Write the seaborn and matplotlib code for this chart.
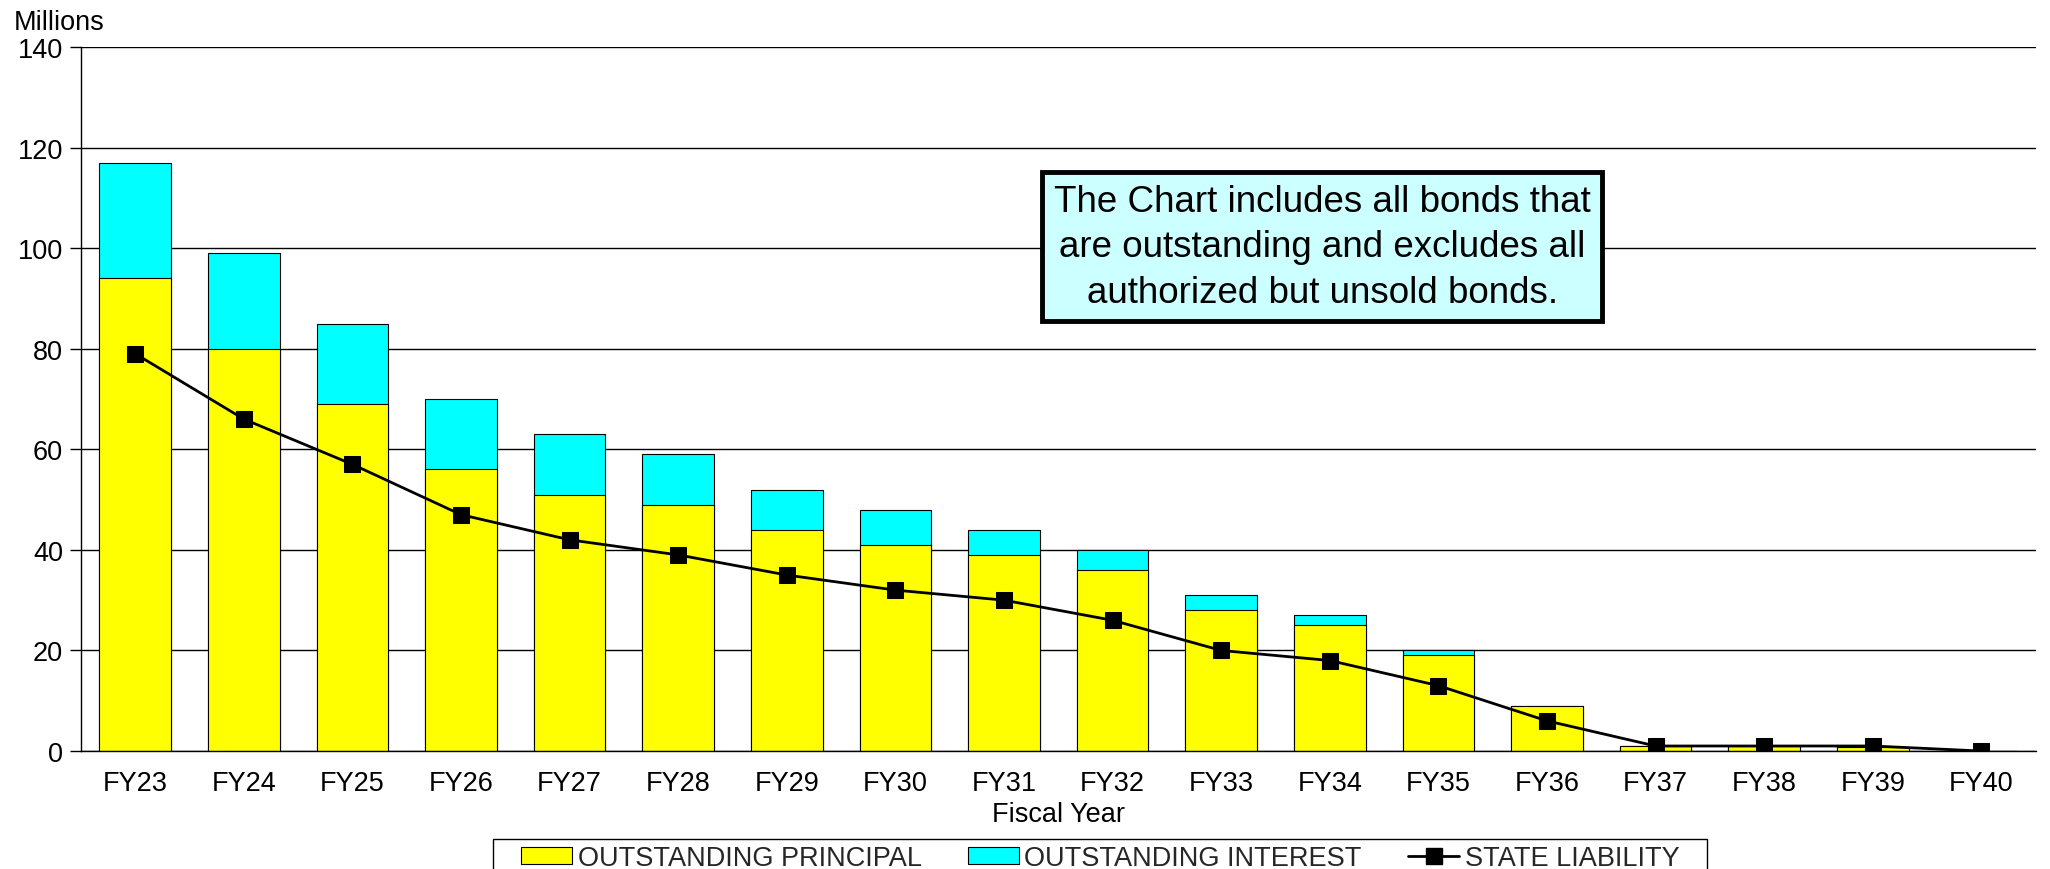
import matplotlib
matplotlib.use("Agg")
import matplotlib.pyplot as plt
import seaborn as sns
import pandas as pd
from matplotlib.patches import Patch, Rectangle
from matplotlib.lines import Line2D

years = ["FY23", "FY24", "FY25", "FY26", "FY27", "FY28", "FY29", "FY30", "FY31",
         "FY32", "FY33", "FY34", "FY35", "FY36", "FY37", "FY38", "FY39", "FY40"]
principal = [94, 80, 69, 56, 51, 49, 44, 41, 39, 36, 28, 25, 19, 9, 1, 1, 0.8, 0]
interest = [23, 19, 16, 14, 12, 10, 8, 7, 5, 4, 3, 2, 1, 0, 0, 0, 0, 0]
liability = [79, 66, 57, 47, 42, 39, 35, 32, 30, 26, 20, 18, 13, 6, 1, 1, 1, 0]
y_ticks = [0, 20, 40, 60, 80, 100, 120, 140]

df = pd.DataFrame({"year": years, "principal": principal, "interest": interest,
                   "liability": liability})
df["total"] = df["principal"] + df["interest"]

sns.set_theme(style="white")
plt.rcParams["font.family"] = ["Liberation Sans", "DejaVu Sans"]

FS = 19.5
fig = plt.figure(figsize=(20.5, 8.7), dpi=100)
ax = fig.add_axes([0.0395, 0.1356, 0.9535, 0.8092])

sns.barplot(data=df, x="year", y="total", color="#00FFFF", saturation=1,
            edgecolor="black", linewidth=0.8, width=0.66, ax=ax, zorder=3)
sns.barplot(data=df, x="year", y="principal", color="#FFFF00", saturation=1,
            edgecolor="black", linewidth=0.8, width=0.66, ax=ax, zorder=4)
sns.lineplot(x=range(len(years)), y=df["liability"], color="black", linewidth=2,
             marker="s", markersize=11.5, markeredgecolor="black", ax=ax, zorder=5)

ax.set_xlim(-0.5, len(years) - 0.5)
ax.set_ylim(0, 140)
ax.set_yticks(y_ticks)
ax.set_xticks(range(len(years)))
ax.set_xticklabels(years)
ax.set_xticks([i - 0.5 for i in range(len(years) + 1)], minor=True)
ax.tick_params(axis="x", which="major", length=0, labelsize=FS, pad=14, colors="black")
ax.tick_params(axis="x", which="minor", length=9, width=1, color="black", direction="out")
ax.tick_params(axis="y", which="major", length=8, width=1, labelsize=FS, colors="black",
               left=True, direction="out", pad=5)
ax.yaxis.grid(True, color="black", linewidth=1)
ax.set_axisbelow(True)
for s in ["top", "right"]:
    ax.spines[s].set_visible(False)
for s in ["left", "bottom"]:
    ax.spines[s].set_color("black")
    ax.spines[s].set_linewidth(1)
ax.spines["bottom"].set_zorder(6)

ax.set_xlabel("Fiscal Year", fontsize=FS, labelpad=3, color="black")
ax.set_ylabel("")
fig.text(0.0065, 0.974, "Millions", fontsize=FS, ha="left", va="center", color="black")

ax.text(0.635, 0.716,
        "The Chart includes all bonds that\nare outstanding and excludes all\nauthorized but unsold bonds.",
        transform=ax.transAxes, ha="center", va="center", multialignment="center",
        fontsize=26.5, linespacing=1.38, zorder=10, color="black",
        bbox=dict(boxstyle="square,pad=0.32", facecolor="#CCFFFF", edgecolor="black",
                  linewidth=3.5))

handles = [Patch(facecolor="#FFFF00", edgecolor="black", linewidth=0.8),
           Patch(facecolor="#00FFFF", edgecolor="black", linewidth=0.8),
           Line2D([], [], color="black", linewidth=2, marker="s", markersize=11.5)]
labels = ["OUTSTANDING PRINCIPAL", "OUTSTANDING INTEREST", "STATE LIABILITY"]
leg = fig.legend(handles, labels, loc="upper center", bbox_to_anchor=(0.5366, 0.032),
                 ncol=3, fontsize=FS, frameon=False, borderaxespad=0,
                 handlelength=1.9, handleheight=0.55, columnspacing=1.7, handletextpad=0.2,
                 borderpad=0.15)

fig.canvas.draw()
bb = leg.get_window_extent()
padx = 24
frame = Rectangle((bb.x0 - padx, bb.y0 - 20), bb.width + 2 * padx, bb.height + 22,
                  transform=None, facecolor="none", edgecolor="black", linewidth=1)
fig.add_artist(frame)

fig.savefig("out.png", dpi=100)
